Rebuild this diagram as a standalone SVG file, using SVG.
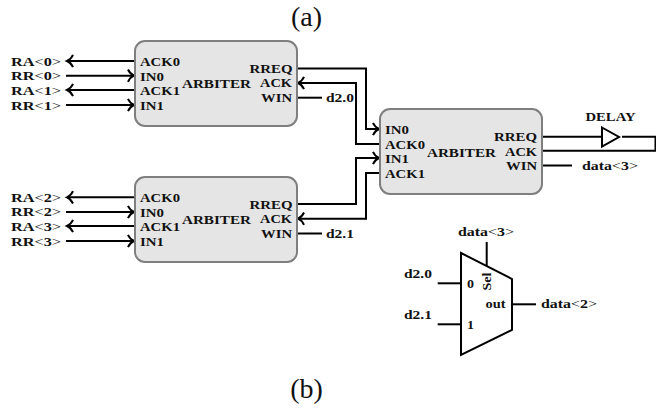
<svg xmlns="http://www.w3.org/2000/svg" width="656" height="410" viewBox="0 0 656 410">
<style>
text{font-family:"Liberation Serif","Times New Roman",serif;font-weight:700;font-size:13px;fill:#111}
.n{font-weight:400}
.cap{font-weight:400;font-size:28px;text-anchor:middle}
.box{fill:#e5e5e5;stroke:#7f7f7f;stroke-width:2}
.w{fill:none;stroke:#000;stroke-width:2}
.a{marker-end:url(#arr)}
.sym{fill:#fff;stroke:#000;stroke-width:2}
</style>
<defs>
<marker id="arr" markerUnits="userSpaceOnUse" markerWidth="12" markerHeight="14" refX="9" refY="7" orient="auto" overflow="visible">
<path d="M3 0.800Q5 5.300 9 7Q5 8.700 3 13.200" fill="none" stroke="#000" stroke-width="2"/>
</marker>
</defs>
<text class="cap" x="306.500" y="26">(a)</text>
<text class="cap" x="306.500" y="398">(b)</text>
<g id="connectors">
<path class="w a" d="M135 61H67"/>
<path class="w a" d="M66 75.700H134"/>
<path class="w a" d="M135 90H67"/>
<path class="w a" d="M66 105H134"/>
<path class="w a" d="M135 197.300H67"/>
<path class="w a" d="M66 212H134"/>
<path class="w a" d="M135 226H67"/>
<path class="w a" d="M66 241H134"/>
<path class="w a" d="M297 68.500H366V129H379"/>
<path class="w a" d="M380 144H356V83H298"/>
<path class="w a" d="M297 204H356V158H379"/>
<path class="w a" d="M380 173H366V218.700H298"/>
<path class="w" d="M297 97.700H322"/>
<path class="w" d="M297 233.500H322"/>
<path class="w" d="M542 136.700H602M622 136.700H655.500V150.700H542"/>
<path class="w" d="M542 165.500H572"/>
<path class="w" d="M437.700 283.300H461"/>
<path class="w" d="M437.700 324.300H461"/>
<path class="w" d="M486.700 242V266"/>
<path class="w" d="M512 304.300H536"/>
</g>
<g id="labels">
<text x="11" y="65.700" textLength="50" lengthAdjust="spacingAndGlyphs">RA<tspan class="n">&lt;</tspan>0<tspan class="n">&gt;</tspan></text>
<text x="11" y="80" textLength="50" lengthAdjust="spacingAndGlyphs">RR<tspan class="n">&lt;</tspan>0<tspan class="n">&gt;</tspan></text>
<text x="11" y="95" textLength="50" lengthAdjust="spacingAndGlyphs">RA<tspan class="n">&lt;</tspan>1<tspan class="n">&gt;</tspan></text>
<text x="11" y="109.500" textLength="50" lengthAdjust="spacingAndGlyphs">RR<tspan class="n">&lt;</tspan>1<tspan class="n">&gt;</tspan></text>
<text x="11" y="202" textLength="50" lengthAdjust="spacingAndGlyphs">RA<tspan class="n">&lt;</tspan>2<tspan class="n">&gt;</tspan></text>
<text x="11" y="216.300" textLength="50" lengthAdjust="spacingAndGlyphs">RR<tspan class="n">&lt;</tspan>2<tspan class="n">&gt;</tspan></text>
<text x="11" y="231.300" textLength="50" lengthAdjust="spacingAndGlyphs">RA<tspan class="n">&lt;</tspan>3<tspan class="n">&gt;</tspan></text>
<text x="11" y="245.800" textLength="50" lengthAdjust="spacingAndGlyphs">RR<tspan class="n">&lt;</tspan>3<tspan class="n">&gt;</tspan></text>
<text x="326" y="102" textLength="28" lengthAdjust="spacingAndGlyphs">d2.0</text>
<text x="326" y="238" textLength="28" lengthAdjust="spacingAndGlyphs">d2.1</text>
<text x="582" y="170" textLength="56" lengthAdjust="spacingAndGlyphs">data<tspan class="n">&lt;</tspan>3<tspan class="n">&gt;</tspan></text>
<text x="585.500" y="121" textLength="50" lengthAdjust="spacingAndGlyphs">DELAY</text>
<text x="458" y="236" textLength="56" lengthAdjust="spacingAndGlyphs">data<tspan class="n">&lt;</tspan>3<tspan class="n">&gt;</tspan></text>
<text x="404" y="278" textLength="28" lengthAdjust="spacingAndGlyphs">d2.0</text>
<text x="404" y="319" textLength="28" lengthAdjust="spacingAndGlyphs">d2.1</text>
<text x="541" y="308" textLength="56" lengthAdjust="spacingAndGlyphs">data<tspan class="n">&lt;</tspan>2<tspan class="n">&gt;</tspan></text>
</g>
<g id="arbiter-1">
<rect class="box" x="135" y="41" width="162" height="85" rx="10"/>
<text x="140" y="66" textLength="40" lengthAdjust="spacingAndGlyphs">ACK0</text>
<text x="140" y="81" textLength="24" lengthAdjust="spacingAndGlyphs">IN0</text>
<text x="140" y="95" textLength="40" lengthAdjust="spacingAndGlyphs">ACK1</text>
<text x="140" y="110" textLength="24" lengthAdjust="spacingAndGlyphs">IN1</text>
<text x="182" y="88" textLength="69" lengthAdjust="spacingAndGlyphs">ARBITER</text>
<text x="249.500" y="72.500" textLength="43" lengthAdjust="spacingAndGlyphs">RREQ</text>
<text x="260" y="87" textLength="32" lengthAdjust="spacingAndGlyphs">ACK</text>
<text x="261" y="102" textLength="31" lengthAdjust="spacingAndGlyphs">WIN</text>
</g>
<g id="arbiter-2">
<rect class="box" x="135" y="177" width="162" height="85" rx="10"/>
<text x="140" y="202" textLength="40" lengthAdjust="spacingAndGlyphs">ACK0</text>
<text x="140" y="217" textLength="24" lengthAdjust="spacingAndGlyphs">IN0</text>
<text x="140" y="231" textLength="40" lengthAdjust="spacingAndGlyphs">ACK1</text>
<text x="140" y="246" textLength="24" lengthAdjust="spacingAndGlyphs">IN1</text>
<text x="182" y="224" textLength="69" lengthAdjust="spacingAndGlyphs">ARBITER</text>
<text x="249.500" y="208.500" textLength="43" lengthAdjust="spacingAndGlyphs">RREQ</text>
<text x="260" y="223" textLength="32" lengthAdjust="spacingAndGlyphs">ACK</text>
<text x="261" y="238" textLength="31" lengthAdjust="spacingAndGlyphs">WIN</text>
</g>
<g id="arbiter-3">
<rect class="box" x="380" y="109" width="162" height="85" rx="10"/>
<text x="385" y="134" textLength="24" lengthAdjust="spacingAndGlyphs">IN0</text>
<text x="385" y="149" textLength="40" lengthAdjust="spacingAndGlyphs">ACK0</text>
<text x="385" y="163" textLength="24" lengthAdjust="spacingAndGlyphs">IN1</text>
<text x="385" y="178" textLength="40" lengthAdjust="spacingAndGlyphs">ACK1</text>
<text x="427" y="156.500" textLength="69" lengthAdjust="spacingAndGlyphs">ARBITER</text>
<text x="494" y="140.500" textLength="43" lengthAdjust="spacingAndGlyphs">RREQ</text>
<text x="505" y="155.500" textLength="32" lengthAdjust="spacingAndGlyphs">ACK</text>
<text x="506" y="170" textLength="31" lengthAdjust="spacingAndGlyphs">WIN</text>
</g>
<g id="delay">
<polygon class="sym" points="602,127.500 619,137 602,146.500"/>
</g>
<g id="mux">
<polygon points="461,253 512,279 512,330 461,355" fill="#fff" stroke="#000" stroke-width="2"/>
<text x="467" y="288" textLength="7" lengthAdjust="spacingAndGlyphs">0</text>
<text x="467" y="329" textLength="7" lengthAdjust="spacingAndGlyphs">1</text>
<text x="485.500" y="308" textLength="20" lengthAdjust="spacingAndGlyphs">out</text>
<text transform="translate(491 290.500) rotate(-90)" x="0" y="0" textLength="18" lengthAdjust="spacingAndGlyphs">Sel</text>
</g>
</svg>
